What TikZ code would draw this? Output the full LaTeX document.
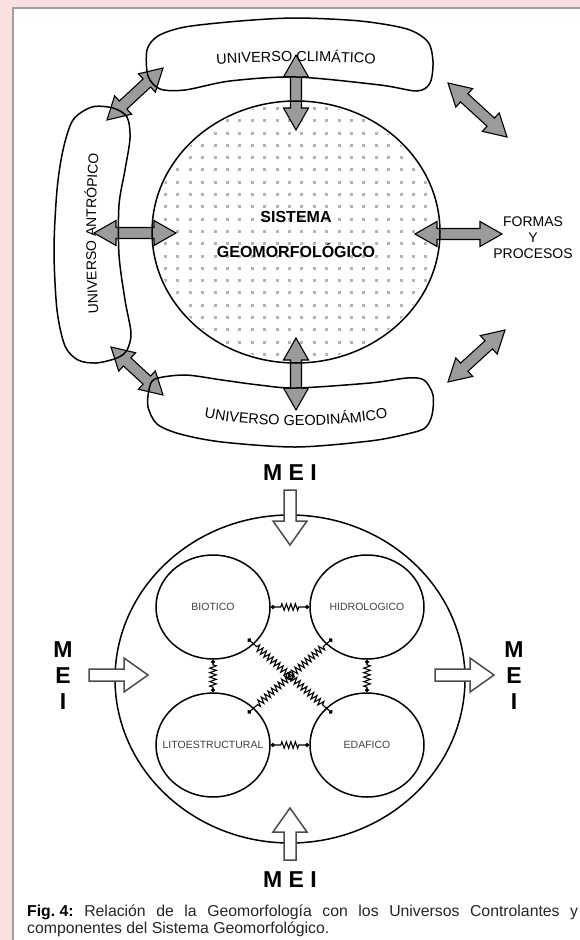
\documentclass[tikz,border=0pt]{standalone}
\usepackage{fontspec}
\setmainfont{Liberation Sans}
\usetikzlibrary{calc,shapes.geometric,decorations.text,decorations.pathmorphing,arrows.meta}

\definecolor{pinkbg}{RGB}{250,225,225}
\definecolor{framegray}{RGB}{160,160,160}
\definecolor{dotgray}{RGB}{180,180,180}
\definecolor{arrowgray}{RGB}{155,155,155}

\newcommand\grayarrow[2]{%
	\filldraw[garrow] (#1) -- ($(#1)!22pt!(#2)!12.5pt!90:(#2)$) -- ($(#1)!22pt!(#2)!5.5pt!90:(#2)$)
		-- ($(#2)!22pt!(#1)!5.5pt!-90:(#1)$) -- ($(#2)!22pt!(#1)!12.5pt!-90:(#1)$) -- (#2)
		-- ($(#2)!22pt!(#1)!12.5pt!90:(#1)$) -- ($(#2)!22pt!(#1)!5.5pt!90:(#1)$)
		-- ($(#1)!22pt!(#2)!5.5pt!-90:(#2)$) -- ($(#1)!22pt!(#2)!12.5pt!-90:(#2)$) -- cycle;}
\newcommand\openarrow[2]{%
	\filldraw[oarrow] ($(#1)!6pt!90:(#2)$) -- ($(#2)!24pt!(#1)!6pt!-90:(#1)$) -- ($(#2)!24pt!(#1)!17pt!-90:(#1)$)
		-- (#2) -- ($(#2)!24pt!(#1)!17pt!90:(#1)$) -- ($(#2)!24pt!(#1)!6pt!90:(#1)$) -- ($(#1)!6pt!-90:(#2)$) -- cycle;}

\begin{document}
\begin{tikzpicture}[x=1pt, y=-1pt,
	blob/.style={line width=1.5pt, line join=round},
	garrow/.style={fill=arrowgray, draw=black, line width=1.1pt},
	oarrow/.style={fill=white, draw=black!70, line width=1.5pt},
	bigtext/.style={font=\fontsize{14}{16}\selectfont},
	boldtext/.style={font=\bfseries\fontsize{16}{18}\selectfont, anchor=base},
	meitext/.style={font=\bfseries\fontsize{23}{26}\selectfont, align=center},
	comp/.style={ellipse, draw, line width=1.5pt, minimum width=114pt, minimum height=104pt, inner sep=0pt},
	comptext/.style={font=\fontsize{10.5}{12}\selectfont, text=black!75},
	captext/.style={font=\fontsize{15.8}{17}\selectfont, text=black!85, inner sep=0pt, anchor=base west},
	spring/.style={line width=1.1pt, {Circle[length=4.2pt]}-{Circle[length=4.2pt]}, decorate,
		decoration={zigzag, segment length=4.5pt, amplitude=3.3pt, pre length=#1, post length=#1}},
	spring/.default=10pt]

	\useasboundingbox (0,0) rectangle (580,940);
	\fill[white] (0,0) rectangle (580,940);
	\fill[pinkbg] (0,0) rectangle (580,7);
	\fill[pinkbg] (0,0) rectangle (12,940);
	\draw[framegray, line width=2.2pt] (13.2,940) -- (13.2,8.3) -- (580,8.3);

	\begin{scope}
		\clip (296,232) ellipse [x radius=142, y radius=129];
		\foreach \i in {0,...,24}
			\foreach \j in {0,...,22}
				\fill[dotgray] ({139.1+12.4*\i},{94.6+12.3*\j}) rectangle ++(3,3);
	\end{scope}

	\coordinate (clim-s) at (296,55);
	\coordinate (sis-n) at (296,130);
	\coordinate (antr-e) at (94,233);
	\coordinate (sis-w) at (176,233);
	\coordinate (sis-e) at (415,234);
	\coordinate (formas-w) at (502,234);
	\coordinate (sis-s) at (296,338);
	\coordinate (geod-n) at (296,410);
	\coordinate (antr-ne) at (107,120);
	\coordinate (clim-sw) at (163,68);
	\coordinate (antr-se) at (111,347);
	\coordinate (geod-nw) at (163,395);
	\coordinate (clim-se) at (448,83);
	\coordinate (right-ne) at (507,137);
	\coordinate (geod-ne) at (448,382);
	\coordinate (right-se) at (505,330);

	\grayarrow{clim-s}{sis-n}
	\grayarrow{antr-e}{sis-w}
	\grayarrow{sis-e}{formas-w}
	\grayarrow{sis-s}{geod-n}
	\grayarrow{antr-ne}{clim-sw}
	\grayarrow{antr-se}{geod-nw}
	\grayarrow{clim-se}{right-ne}
	\grayarrow{geod-ne}{right-se}

	\node[ellipse, draw, line width=1.5pt, minimum width=288pt, minimum height=262pt, inner sep=0pt] (sis) at (296,232) {};
	\draw[blob] plot[smooth cycle] coordinates {(147,50) (158,36) (185,27) (240,21) (296,18) (360,21) (407,29) (428,42) (433,62) (430,83) (417,91) (380,85) (296,77) (230,81) (185,90) (160,89) (148,76)};
	\draw[blob] plot[smooth cycle] coordinates {(92,107) (113,108) (127,117) (130,138) (125,170) (119,205) (119,255) (125,300) (131,333) (127,350) (117,358) (96,363) (78,360) (65,346) (57,310) (54,250) (57,190) (63,150) (73,120)};
	\draw[blob] plot[smooth cycle] coordinates {(155,379) (185,375) (222,380) (259,385) (296,388) (370,383) (407,378) (424,380) (433,395) (432,415) (425,428) (407,434) (370,441) (296,447) (222,442) (180,434) (157,424) (148,407) (149,390)};

	\path[decorate, decoration={text along path, text align=center, text={|\fontsize{14.5}{16}\selectfont|UNIVERSO CLIMÁTICO}}] (190,67) .. controls (240,60) and (352,60) .. (402,67);
	\path[decorate, decoration={text along path, text align=center, text={|\fontsize{14}{16}\selectfont|UNIVERSO ANTRÓPICO}}] (99,322) .. controls (95,270) and (95,200) .. (99,145);
	\path[decorate, decoration={text along path, text align=center, text={|\fontsize{14.5}{16}\selectfont|UNIVERSO GEODINÁMICO}}] (180,412) .. controls (240,430) and (352,430) .. (412,412);

	\node[boldtext] (sistema) at (296,222.7) {SISTEMA};
	\node[boldtext] (geomorf) at (296,257.7) {GEOMORFOLÓGICO};
	\node[bigtext, align=center] (formas) at (533,238) {FORMAS\\Y\\PROCESOS};

	\node[comp, minimum width=350pt, minimum height=328pt] (mei) at (290,679) {};
	\node[comp] (bio) at (213,607) {};
	\node[comp] (hid) at (367,607) {};
	\node[comp] (lit) at (213,745) {};
	\node[comp] (eda) at (367,745) {};
	\node[comptext] (bio-t) at (bio) {BIOTICO};
	\node[comptext] (hid-t) at (hid) {HIDROLOGICO};
	\node[comptext] (lit-t) at (lit) {LITOESTRUCTURAL};
	\node[comptext] (eda-t) at (eda) {EDAFICO};

	\draw[spring] (bio.east) -- (hid.west);
	\draw[spring] (lit.east) -- (eda.west);
	\draw[spring=5pt] (bio.south) -- (lit.north);
	\draw[spring=5pt] (hid.south) -- (eda.north);
	\draw[spring=12pt] ($(bio)!0.85!(bio.south east)$) -- ($(eda)!0.85!(eda.north west)$);
	\draw[spring=12pt] ($(hid)!0.85!(hid.south west)$) -- ($(lit)!0.85!(lit.north east)$);
	\draw[line width=1pt] ($(bio)!0.5!(eda)$) circle [radius=3.8];

	\node[meitext] (mei-n) at (290,473) {M E I};
	\node[meitext] (mei-s) at (290,880) {M E I};
	\node[meitext] (mei-w) at (63,676) {M\\E\\I};
	\node[meitext] (mei-e) at (514,676) {M\\E\\I};
	\coordinate (mei-n-a) at (290,490);
	\coordinate (mei-n-b) at (290,545);
	\coordinate (mei-s-a) at (290,860);
	\coordinate (mei-s-b) at (290,808);
	\coordinate (mei-w-a) at (89,675);
	\coordinate (mei-w-b) at (148,675);
	\coordinate (mei-e-a) at (435,675);
	\coordinate (mei-e-b) at (494,675);
	\openarrow{mei-n-a}{mei-n-b}
	\openarrow{mei-s-a}{mei-s-b}
	\openarrow{mei-w-a}{mei-w-b}
	\openarrow{mei-e-a}{mei-e-b}

	\node[captext] (cap1) at (27,916.5) {\makebox[551pt][s]{\mbox{\textbf{\color{black}Fig.\ 4:}} Relación de la Geomorfología con los Universos Controlantes y}};
	\node[captext] (cap2) at (27,933.5) {componentes del Sistema Geomorfológico.};
\end{tikzpicture}
\end{document}
